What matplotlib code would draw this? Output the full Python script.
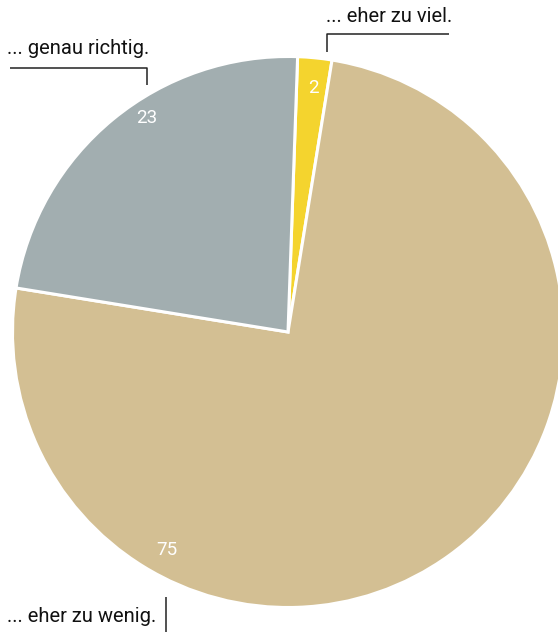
import matplotlib
matplotlib.use("Agg")
import matplotlib.pyplot as plt

plt.rcParams['font.family'] = ['Roboto', 'DejaVu Sans']

categories = ["... eher zu viel.", "... eher zu wenig.", "... genau richtig."]
values = [2, 75, 23]
colors = ["#f4d42e", "#d3bf93", "#a2aeb0"]

W, H = 558, 632
fig = plt.figure(figsize=(W / 100, H / 100), dpi=100)
ax = fig.add_axes([0, 0, 1, 1])

cx, cy, r = 288, H - 332, 275.5
ax.pie(values, colors=colors, startangle=88, counterclock=False,
       center=(cx, cy), radius=r, frame=True,
       wedgeprops=dict(edgecolor='white', linewidth=2.2))
ax.set_xlim(0, W)
ax.set_ylim(0, H)
ax.set_aspect('equal')
ax.axis('off')

# value labels inside the wedges
value_pos = [(313, 88), (167, 550), (147, 118)]
for v, (x, y) in zip(values, value_pos):
    ax.text(x, H - y, str(v), color='white', fontsize=13.5,
            ha='center', va='center')

# category labels with leader lines
line_kw = dict(color='#222222', linewidth=1.1, solid_capstyle='butt')
txt_kw = dict(fontsize=14.5, ha='left', va='center', color='#111111')

ax.text(326, H - 17, categories[0], **txt_kw)
ax.plot([449, 327, 327], [H - 34, H - 34, H - 52], **line_kw)

ax.text(7, H - 48, categories[2], **txt_kw)
ax.plot([10, 147, 147], [H - 68, H - 68, H - 85], **line_kw)

ax.text(7, H - 616, categories[1], **txt_kw)
ax.plot([166, 166], [H - 597, H - 632], **line_kw)

fig.savefig("out.png", dpi=100)
